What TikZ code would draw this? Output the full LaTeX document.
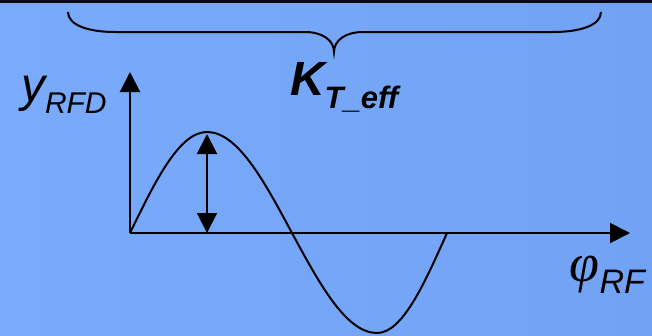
\documentclass[tikz,border=0pt]{standalone}
\usepackage{fontspec}
\setmainfont{Liberation Sans}
\newfontfamily\phifont{Liberation Serif}
\usetikzlibrary{arrows.meta}
\definecolor{bgL}{RGB}{122,170,252}
\definecolor{bgR}{RGB}{114,162,244}
\definecolor{topbar}{RGB}{10,10,20}
\begin{document}
\begin{tikzpicture}[x=1pt,y=-1pt,line width=2pt,
  tipA/.style={-{Triangle[length=20pt,width=20pt]}},
  tipAB/.style={{Triangle[length=20pt,width=20pt]}-{Triangle[length=20pt,width=20pt]}},
  lbl/.style={anchor=base west,inner sep=0pt}]
\useasboundingbox (0,0) rectangle (652,335);
\shade[left color=bgL,right color=bgR] (0,0) rectangle (652,335);
\fill[topbar] (0,0) rectangle (652,3);
% coordinates
\coordinate (O) at (130,233);
\coordinate (ytip) at (130,72);
\coordinate (xtip) at (630,233);
\coordinate (peak) at (207,132);
\coordinate (z1) at (292,233);
\coordinate (trough) at (377,333);
\coordinate (z2) at (447,233);
\coordinate (ampT) at (207,134);
\coordinate (ampB) at (207,233);
\coordinate (bL) at (68,12);
\coordinate (bR) at (601,12);
\coordinate (bTip) at (334,52);
% axes
\draw[tipA] (O) -- (ytip);
\draw[tipA] (O) -- (xtip);
% sine
\draw (O) sin (peak) cos (z1) sin (trough) cos (z2);
% amplitude arrow
\draw[tipAB] (ampT) -- (ampB);
% brace
\draw (bL) .. controls (68,25) and (88,32) .. (115,32) -- (305,32)
  .. controls (322,32) and (334,40) .. (bTip)
  .. controls (334,40) and (346,32) .. (363,32) -- (553,32)
  .. controls (581,32) and (601,25) .. (bR);
% labels
\node[lbl,font=\fontsize{48}{48}\selectfont\itshape] (ylab) at (20,101)
  {y\raisebox{-12pt}{\fontsize{30}{30}\selectfont RFD}};
\node[lbl,font=\fontsize{48}{48}\selectfont\bfseries\itshape] (klab) at (289,95)
  {K\raisebox{-13pt}{\fontsize{31}{31}\selectfont T\_eff}};
\node[anchor=base east,inner sep=0pt] (philab) at (646,281)
  {{\fontsize{54}{54}\selectfont\phifont\itshape φ}\raisebox{-12pt}{\fontsize{34}{34}\selectfont\itshape RF}};
\end{tikzpicture}
\end{document}
